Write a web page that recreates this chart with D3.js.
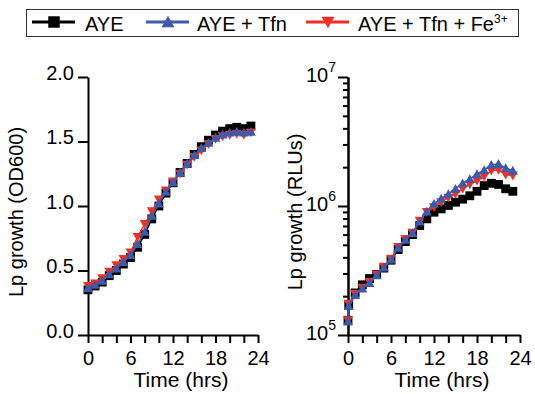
<!DOCTYPE html>
<html>
<head>
<meta charset="utf-8">
<script src="https://cdn.jsdelivr.net/npm/d3@7"></script>
<style>
  body { margin: 0; background: #fff; }
  text { font-family: "Liberation Sans", Arial, sans-serif; fill: #000; }
</style>
</head>
<body>
<div id="chart"></div>
<script>
// hourly time points for OD600
var odTime = d3.range(0, 24);
var odAye = [0.35,0.38,0.41,0.46,0.50,0.55,0.60,0.68,0.78,0.90,1.00,1.10,1.18,1.26,1.33,1.40,1.46,1.51,1.55,1.58,1.60,1.61,1.60,1.62];
var odTfn = [0.365,0.39,0.42,0.47,0.515,0.565,0.62,0.705,0.80,0.925,1.02,1.11,1.185,1.26,1.33,1.395,1.45,1.49,1.53,1.555,1.57,1.575,1.57,1.575];
var odFe  = [0.38,0.40,0.44,0.49,0.54,0.59,0.64,0.76,0.86,0.96,1.05,1.12,1.19,1.25,1.32,1.38,1.43,1.48,1.52,1.54,1.55,1.56,1.55,1.57];

// luminescence has two readings at the start
var rluTime = [0, 0.1].concat(d3.range(1, 24));
var rluAye = [1.30e5,1.72e5,2.12e5,2.45e5,2.74e5,2.95e5,3.3e5,3.8e5,4.6e5,5.3e5,6.0e5,7.06e5,7.95e5,8.95e5,9.5e5,1.01e6,1.07e6,1.13e6,1.20e6,1.30e6,1.44e6,1.50e6,1.47e6,1.36e6,1.30e6];
var rluTfn = [1.27e5,1.68e5,2.04e5,2.29e5,2.53e5,2.9e5,3.33e5,3.84e5,4.75e5,5.48e5,6.17e5,7.59e5,9.06e5,1.04e6,1.14e6,1.24e6,1.36e6,1.50e6,1.62e6,1.77e6,1.90e6,2.09e6,2.12e6,1.97e6,1.88e6];
var rluFe  = [1.30e5,1.75e5,2.08e5,2.32e5,2.58e5,2.95e5,3.38e5,3.9e5,4.8e5,5.55e5,6.2e5,7.7e5,9.0e5,9.8e5,1.07e6,1.16e6,1.24e6,1.36e6,1.47e6,1.57e6,1.69e6,1.88e6,1.90e6,1.75e6,1.72e6];

var xTicks = d3.range(0, 25, 2);
var odTicks = [0, 0.5, 1.0, 1.5, 2.0];
var rluTicks = [1e5, 1e6, 1e7];
var seriesNames = ["AYE", "AYE + Tfn", "AYE + Tfn + Fe"];
var colours = ["#000000", "#3f5aa8", "#ee3124"];

var w = 535, h = 394;
var svg = d3.select("#chart").append("svg")
  .attr("width", w)
  .attr("height", h);

var xL = d3.scaleLinear().domain([0, 24]).range([88, 258]);
var yL = d3.scaleLinear().domain([0, 2]).range([335, 77]);
var xR = d3.scaleLinear().domain([0, 24]).range([348, 520]);
var yR = d3.scaleLog().domain([1e5, 1e7]).range([335, 77]);

var square = d3.symbol().type(d3.symbolSquare).size(78);
var triUp = "M0,-4.8L5,4L-5,4Z";
var triDown = "M0,4.8L5,-4L-5,-4Z";
var shapes = [square(), triUp, triDown];

function styleAxis(g) {
  g.selectAll("path.domain").attr("stroke", "#000").attr("stroke-width", 2);
  g.selectAll(".tick line").attr("stroke", "#000").attr("stroke-width", 2);
  g.selectAll("text").attr("font-size", 20).attr("font-family", "Liberation Sans, Arial, sans-serif");
}

function xAxis(x, y) {
  var g = svg.append("g")
    .attr("transform", "translate(0," + y.range()[0] + ")")
    .call(d3.axisBottom(x).tickValues(xTicks).tickSize(8).tickSizeOuter(0).tickPadding(8)
      .tickFormat(function(d) { return d % 6 === 0 ? d : ""; }));
  styleAxis(g);
  g.selectAll("text").attr("dy", "0.71em");
  svg.append("text")
    .attr("x", (x.range()[0] + x.range()[1]) / 2 + 8)
    .attr("y", 387)
    .attr("text-anchor", "middle")
    .attr("font-size", 21)
    .text("Time (hrs)");
}

function drawSeries(x, y, times, values, i) {
  var line = d3.line()
    .x(function(d, k) { return x(times[k]); })
    .y(function(d) { return y(d); });
  svg.append("path")
    .datum(values)
    .attr("d", line)
    .attr("fill", "none")
    .attr("stroke", colours[i])
    .attr("stroke-width", 1.5);
  svg.append("g").selectAll("path")
    .data(values)
    .enter()
    .append("path")
    .attr("d", shapes[i])
    .attr("transform", function(d, k) { return "translate(" + x(times[k]) + "," + y(d) + ")"; })
    .attr("fill", colours[i]);
}

// left panel: OD600
xAxis(xL, yL);
var gl = svg.append("g")
  .attr("transform", "translate(" + xL.range()[0] + ",0)")
  .call(d3.axisLeft(yL).tickValues(odTicks).tickSize(10).tickSizeOuter(0).tickPadding(4)
    .tickFormat(d3.format(".1f")));
styleAxis(gl);
gl.selectAll("text").attr("dy", "0.1em");

svg.append("text")
  .attr("transform", "translate(23,212) rotate(-90)")
  .attr("text-anchor", "middle")
  .attr("font-size", 20)
  .text("Lp growth (OD600)");

drawSeries(xL, yL, odTime, odAye, 0);
drawSeries(xL, yL, odTime, odFe, 2);
drawSeries(xL, yL, odTime, odTfn, 1);

// right panel: RLU, log scale
xAxis(xR, yR);
var minor = [];
[1e5, 1e6].forEach(function(b) {
  for (var m = 2; m <= 9; m++) minor.push(b * m);
});
var gm = svg.append("g")
  .attr("transform", "translate(" + xR.range()[0] + ",0)")
  .call(d3.axisLeft(yR).tickValues(minor).tickSize(5).tickSizeOuter(0).tickFormat(""));
styleAxis(gm);
var gr = svg.append("g")
  .attr("transform", "translate(" + xR.range()[0] + ",0)")
  .call(d3.axisLeft(yR).tickValues(rluTicks).tickSize(10).tickSizeOuter(0).tickPadding(3)
    .tickFormat(""));
styleAxis(gr);
gr.selectAll(".tick").each(function(d) {
  var t = d3.select(this).append("text")
    .attr("x", -12)
    .attr("y", 4)
    .attr("text-anchor", "end")
    .attr("font-size", 20);
  t.append("tspan").text("10");
  t.append("tspan").attr("dy", -10).attr("font-size", 14).text(Math.round(Math.log10(d)));
});

svg.append("text")
  .attr("transform", "translate(302,212) rotate(-90)")
  .attr("text-anchor", "middle")
  .attr("font-size", 20)
  .text("Lp growth (RLUs)");

drawSeries(xR, yR, rluTime, rluAye, 0);
drawSeries(xR, yR, rluTime, rluFe, 2);
drawSeries(xR, yR, rluTime, rluTfn, 1);

// legend
var legend = svg.append("g");
legend.append("rect")
  .attr("x", 26.5).attr("y", 9.5)
  .attr("width", 492).attr("height", 27)
  .attr("fill", "none")
  .attr("stroke", "#333")
  .attr("stroke-width", 1);

var legX = [32, 146, 306];
var legText = [85, 197, 358];
seriesNames.forEach(function(name, i) {
  legend.append("line")
    .attr("x1", legX[i]).attr("x2", legX[i] + 43)
    .attr("y1", 22).attr("y2", 22)
    .attr("stroke", colours[i])
    .attr("stroke-width", 3);
  legend.append("path")
    .attr("d", shapes[i])
    .attr("transform", "translate(" + (legX[i] + 22) + ",22) scale(1.3)")
    .attr("fill", colours[i]);
  var t = legend.append("text")
    .attr("x", legText[i])
    .attr("y", 31)
    .attr("font-size", 20)
    .text(name);
  if (i === 2) {
    t.append("tspan").attr("dy", -8).attr("font-size", 12).text("3+");
  }
});
</script>
</body>
</html>
